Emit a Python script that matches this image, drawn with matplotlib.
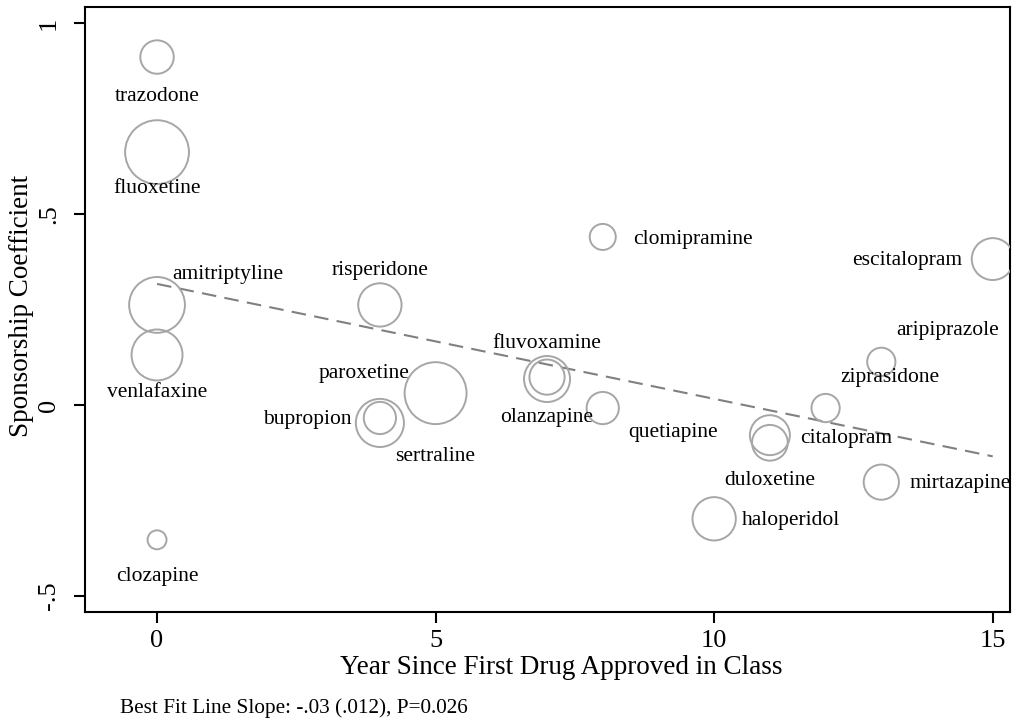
import numpy as np
import matplotlib
matplotlib.use("Agg")
import matplotlib.pyplot as plt

plt.rcParams['font.family'] = ['Liberation Serif', 'DejaVu Serif']

# data
drugs = ['trazodone', 'fluoxetine', 'amitriptyline', 'venlafaxine', 'clozapine',
         'risperidone', 'bupropion', 'sertraline', 'paroxetine', 'fluvoxamine',
         'olanzapine', 'clomipramine', 'quetiapine', 'haloperidol', 'citalopram',
         'duloxetine', 'ziprasidone', 'aripiprazole', 'mirtazapine', 'escitalopram']
years = [0, 0, 0, 0, 0, 4, 4, 4, 5, 7, 7, 8, 8, 10, 11, 11, 12, 13, 13, 15]
coef = [0.911, 0.662, 0.262, 0.131, -0.353, 0.262, -0.034, -0.047, 0.031, 0.073,
        0.068, 0.440, -0.008, -0.298, -0.079, -0.099, -0.008, 0.113, -0.202, 0.382]
weight = [2.8, 10.2, 7.8, 6.5, 0.9, 4.7, 2.6, 5.8, 9.6, 3.1,
          5.3, 1.7, 2.6, 4.7, 4.0, 3.2, 2.0, 2.0, 3.1, 4.4]
fit_intercept = 0.317
fit_slope = -0.0301
note = 'Best Fit Line Slope: -.03 (.012), P=0.026'

# label placement (pixel offsets from marker centre, Stata clock style)
label_pos = {
    'trazodone': (0, 39, 'center'), 'fluoxetine': (0, 36, 'center'),
    'amitriptyline': (15, -30, 'left'), 'venlafaxine': (0, 38, 'center'),
    'clozapine': (0, 37, 'center'), 'risperidone': (0, -34, 'center'),
    'bupropion': (-28, 2, 'right'), 'sertraline': (15, 34, 'left'),
    'paroxetine': (-26, -20, 'right'), 'fluvoxamine': (0, -34, 'center'),
    'olanzapine': (0, 38, 'center'), 'clomipramine': (30, 3, 'left'),
    'quetiapine': (26, 24, 'left'), 'haloperidol': (28, 2, 'left'),
    'citalopram': (30, 3, 'left'), 'duloxetine': (0, 38, 'center'),
    'ziprasidone': (15, -31, 'left'), 'aripiprazole': (15, -31, 'left'),
    'mirtazapine': (28, 1, 'left'), 'escitalopram': (-30, 1, 'right'),
}

W, H = 1015, 721
fig = plt.figure(figsize=(W / 100, H / 100), dpi=100)
ax = fig.add_axes([85 / W, 1 - 612 / H, (1010 - 85) / W, (612 - 7) / H])

sizes = [207 * w for w in weight]
ax.scatter(years, coef, s=sizes, facecolors='none', edgecolors='#a6a6a6',
           linewidths=1.4, zorder=3)

xs = np.array([0, 15])
ax.plot(xs, fit_intercept + fit_slope * xs, color='#808080', lw=1.5,
        dashes=(7, 4), zorder=2)

for d, x, y in zip(drugs, years, coef):
    dx, dy, ha = label_pos[d]
    ax.annotate(d, (x, y), xytext=(dx * 0.72, -dy * 0.72), textcoords='offset points',
                ha=ha, va='center', fontsize=15.5, color='black')

ax.set_xlim(-1.293, 15.31)
ax.set_ylim(-0.542, 1.042)
ax.set_xticks([0, 5, 10, 15])
ax.set_xticklabels(['0', '5', '10', '15'])
ax.set_yticks([-0.5, 0, 0.5, 1])
ax.set_yticklabels(['-.5', '0', '.5', '1'], rotation=90, va='center')
ax.tick_params(axis='both', labelsize=19, length=8, width=1.5, direction='out')
ax.tick_params(axis='x', pad=5)
ax.tick_params(axis='y', pad=10)
for sp in ax.spines.values():
    sp.set_linewidth(1.5)

fig.text(561 / W, 1 - 668 / H, 'Year Since First Drug Approved in Class',
         ha='center', va='center', fontsize=19.5)
fig.text(22 / W, 1 - 306 / H, 'Sponsorship Coefficient', ha='center',
         va='center', rotation=90, fontsize=19.5)
fig.text(120 / W, 1 - 708 / H, note, ha='left', va='center', fontsize=15.3)

fig.savefig('out.png', dpi=100)
